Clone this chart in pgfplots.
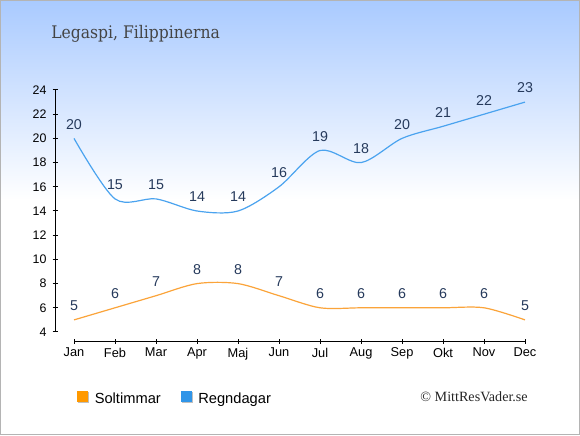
\documentclass[border=0pt]{standalone}
\usepackage{fontspec}
\setmainfont{Liberation Sans}
\newfontfamily\titlefont[FakeStretch=0.9]{DejaVu Serif}
\newfontfamily\copyfont{Liberation Serif}
\usepackage{pgfplots}
\pgfplotsset{compat=1.18}
\definecolor{bgtop}{HTML}{A9CAFF}
\definecolor{framec}{HTML}{B4B4B4}
\definecolor{orangeL}{HTML}{FBA43A}
\definecolor{orangeM}{HTML}{FF9900}
\definecolor{blueL}{HTML}{4AA3EF}
\definecolor{blueM}{HTML}{3095E8}
\definecolor{labelc}{HTML}{263A5C}
\definecolor{titlec}{HTML}{444444}
\begin{document}
\begin{tikzpicture}
\fill[white] (0,0) rectangle (435pt,326.25pt);
\shade[top color=bgtop, bottom color=white] (0,176.25pt) rectangle (435pt,326.25pt);
\draw[framec, line width=0.75pt] (0.375pt,0.375pt) rectangle (434.625pt,325.875pt);
\node[anchor=base west, inner sep=0pt, font=\titlefont\fontsize{13}{15}\selectfont, text=titlec] at (38.25pt,297.2pt) {Legaspi, Filippinerna};
\node[anchor=base east, inner sep=0pt, font=\copyfont\fontsize{10.6}{12}\selectfont, text=black!85] at (396pt,25.5pt) {© MittResVader.se};
\begin{axis}[
  at={(41.25pt,70.5pt)}, anchor=south west,
  scale only axis, width=352.5pt, height=188.25pt,
  xmin=-0.4634, xmax=11, ymin=3.256, ymax=24, clip=false,
  axis x line*=bottom, axis y line*=left, axis line style={draw=none},
  xtick={0,...,11},
  xticklabels={Jan,Feb,Mar,Apr,Maj,Jun,Jul,Aug,Sep,Okt,Nov,Dec},
  ytick={4,6,...,24},
  tick align=center, major tick length=3.75pt,
  tick style={black, line width=0.75pt},
  ticklabel style={text=black},
  /pgf/number format/assume math mode=true,
  yticklabel style={font=\fontsize{9.3}{11}\selectfont, inner sep=0pt, xshift=-4.3pt},
  xticklabel style={font=\fontsize{9.6}{11}\selectfont, inner sep=0pt, yshift=-3.1pt},
  every node near coord/.append style={font=\fontsize{10.7}{12}\selectfont, text=labelc, inner sep=0pt, yshift=6.3pt},
  legend columns=2,
  legend style={at={(axis description cs:0.0383,-0.227)}, anchor=west, draw=none, fill=none,
    font=\fontsize{11}{13}\selectfont, nodes={inner sep=0pt},
    /tikz/every odd column/.style={column sep=4pt},
    /tikz/every even column/.style={column sep=15pt}},
]
\addplot[smooth, color=orangeL, line width=0.9pt, nodes near coords,
  legend image code/.code={\fill[black!25] (0.75pt,-2.25pt) rectangle (8.25pt,5.25pt);\fill[orangeM] (0pt,-1.5pt) rectangle (7.5pt,6pt);}]
  coordinates {(0,5) (1,6) (2,7) (3,8) (4,8) (5,7) (6,6) (7,6) (8,6) (9,6) (10,6) (11,5)};
\addlegendentry{Soltimmar}
\addplot[smooth, color=blueL, line width=0.9pt, nodes near coords,
  legend image code/.code={\fill[black!25] (0.75pt,-2.25pt) rectangle (8.25pt,5.25pt);\fill[blueM] (0pt,-1.5pt) rectangle (7.5pt,6pt);}]
  coordinates {(0,20) (1,15) (2,15) (3,14) (4,14) (5,16) (6,19) (7,18) (8,20) (9,21) (10,22) (11,23)};
\addlegendentry{Regndagar}
\draw[black, line width=0.75pt] (axis cs:0,3.256) -- (axis cs:11,3.256);
\draw[black, line width=0.75pt] (axis cs:-0.4634,4) -- (axis cs:-0.4634,24);
\end{axis}
\end{tikzpicture}
\end{document}
